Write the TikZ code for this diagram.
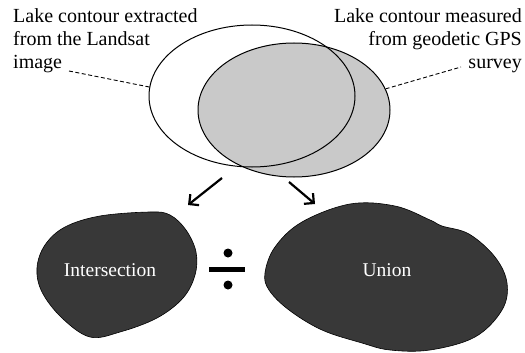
\documentclass[tikz,border=0pt]{standalone}
\usepackage{fontspec}
\setmainfont{Liberation Serif}
\usetikzlibrary{shapes.geometric,arrows.meta}
\definecolor{lakegray}{HTML}{C9C9C9}
\definecolor{blobgray}{HTML}{383838}
\begin{document}
\begin{tikzpicture}[x=1pt,y=-1pt,
  lbl/.style={font=\fontsize{20}{23}\selectfont, inner sep=0pt},
  contour/.style={ellipse, draw, line width=1pt, inner sep=0pt},
  blob/.style={fill=blobgray, draw=black, line width=0.6pt},
  leader/.style={line width=0.9pt, dash pattern=on 4pt off 2.5pt},
  flow/.style={-{Straight Barb[length=7pt,width=14pt]}, line width=2.2pt},
  blobtext/.style={text=white, font=\fontsize{19.5}{23}\selectfont, inner sep=0pt}]
\useasboundingbox (0,0) rectangle (525,353);
% lake contours
\node[contour, fill=lakegray, minimum width=192pt, minimum height=134pt] (gps) at (294,110) {};
\node[contour, minimum width=206pt, minimum height=142pt] (landsat) at (252,96) {};
% labels
\node[lbl, anchor=north west, align=left] (ltext) at (13,8) {Lake contour extracted\\from the Landsat\\image};
\node[lbl, anchor=north east, align=right] (rtext) at (522,8) {Lake contour measured\\from geodetic GPS\\survey};
\coordinate (lstart) at (69,71);
\coordinate (rstart) at (461,67);
\draw[leader] (lstart) -- (landsat.175);
\draw[leader] (gps.13) -- (rstart);
% arrows
\coordinate (a1s) at (222,178);
\coordinate (a1e) at (188,205);
\coordinate (a2s) at (289,182);
\coordinate (a2e) at (315,204);
\draw[flow] (a1s) -- (a1e);
\draw[flow] (a2s) -- (a2e);
% blobs
\draw[blob] plot[smooth cycle, tension=0.6] coordinates {(45,245) (65,227) (100,216) (150,212) (170,215) (186,230) (196,252) (195,275) (183,298) (157,318) (120,332) (90,337) (62,318) (42,292) (37,268)};
\node[blobtext] (inter) at (110,270) {Intersection};
\draw[blob] plot[smooth cycle, tension=0.6] coordinates {(265,273) (275,247) (302,222) (350,204) (395,206) (430,220) (442,226) (469,234) (495,257) (507,283) (502,310) (475,337) (430,350) (390,350) (362,343) (322,330) (289,310) (269,290)};
\node[blobtext] (union) at (387,270) {Union};
% division sign
\fill (209,266.5) rectangle (245,271.5);
\fill (228,253) circle (4.5);
\fill (228,285) circle (4.5);
\end{tikzpicture}
\end{document}
